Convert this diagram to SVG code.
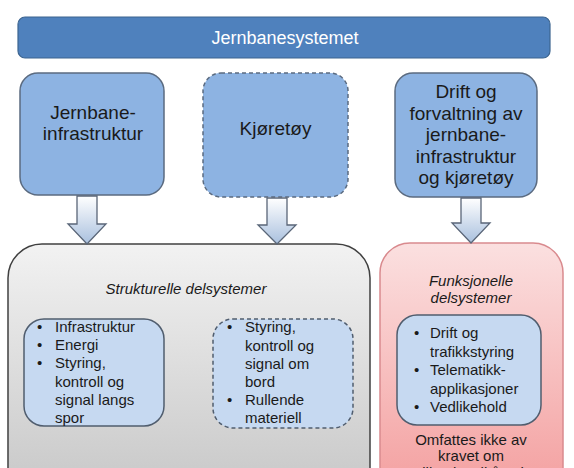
<svg xmlns="http://www.w3.org/2000/svg" width="574" height="468" viewBox="0 0 574 468">
<defs>
<linearGradient id="gGray" x1="0" y1="0" x2="0" y2="1">
<stop offset="0" stop-color="#f2f2f2"/><stop offset="1" stop-color="#c4c4c4"/>
</linearGradient>
<linearGradient id="gPink" x1="0" y1="0" x2="0" y2="1">
<stop offset="0" stop-color="#fbe0e0"/><stop offset="1" stop-color="#f39a9a"/>
</linearGradient>
<linearGradient id="gArrow" x1="0" y1="0" x2="0" y2="1">
<stop offset="0" stop-color="#ffffff"/><stop offset="1" stop-color="#a9c0de"/>
</linearGradient>
<style>
text{font-family:"Liberation Sans",Arial,sans-serif;fill:#1a1a1a}
.t18{font-size:18px;text-anchor:middle}
.t19{font-size:19px;text-anchor:middle}
.t15{font-size:15px}
.it{font-style:italic;text-anchor:middle}
.c{text-anchor:middle}
.blue{fill:#8db3e2;stroke:#5b6b80;stroke-width:1.5}
.inner{fill:#c6d9f1;stroke:#505d6e;stroke-width:1.5}
.dash{stroke-dasharray:4 3}
.arrow{fill:url(#gArrow);stroke:#5a6678;stroke-width:1.3}
</style>
</defs>
<rect width="574" height="468" fill="#ffffff"/>

<g id="jernbanesystemet">
<rect x="18" y="17" width="532" height="41" rx="7" fill="#4f81bd" stroke="#3d6590" stroke-width="1.2"/>
<text x="285" y="44" class="t18" style="fill:#ffffff">Jernbanesystemet</text>
</g>

<g id="infrastruktur">
<rect x="20" y="73" width="144" height="122" rx="18" class="blue"/>
<text x="93" y="119" class="t19">Jernbane-</text>
<text x="93" y="140" class="t19">infrastruktur</text>
</g>

<g id="kjoretoy">
<rect x="203" y="73" width="145" height="124" rx="18" class="blue dash"/>
<text x="275.5" y="135" class="t19">Kjøretøy</text>
</g>

<g id="drift">
<rect x="395" y="73" width="142" height="124" rx="18" class="blue"/>
<text x="466" y="98" class="t19">Drift og</text>
<text x="466" y="119.5" class="t19">forvaltning av</text>
<text x="466" y="141" class="t19">jernbane-</text>
<text x="466" y="162.5" class="t19">infrastruktur</text>
<text x="466" y="184" class="t19">og kjøretøy</text>
</g>

<g id="strukturelle">
<rect x="8" y="244" width="362" height="270" rx="34" fill="url(#gGray)" stroke="#404040" stroke-width="1.5"/>
<text x="186" y="294" class="t15 it">Strukturelle delsystemer</text>
</g>

<g id="strukturelle-infra">
<rect x="24" y="319" width="140" height="107" rx="20" class="inner"/>
<text class="t15">
<tspan x="37" y="332">•</tspan><tspan x="55" y="332">Infrastruktur</tspan>
<tspan x="37" y="350">•</tspan><tspan x="55" y="350">Energi</tspan>
<tspan x="37" y="368">•</tspan><tspan x="55" y="368">Styring,</tspan>
<tspan x="55" y="386.5">kontroll og</tspan>
<tspan x="55" y="405">signal langs</tspan>
<tspan x="55" y="423">spor</tspan>
</text>
</g>

<g id="strukturelle-kjoretoy">
<rect x="213" y="319" width="140" height="109" rx="20" class="inner dash"/>
<text class="t15">
<tspan x="227" y="332">•</tspan><tspan x="245" y="332">Styring,</tspan>
<tspan x="245" y="350.5">kontroll og</tspan>
<tspan x="245" y="369">signal om</tspan>
<tspan x="245" y="387">bord</tspan>
<tspan x="227" y="405">•</tspan><tspan x="245" y="405">Rullende</tspan>
<tspan x="245" y="423">materiell</tspan>
</text>
</g>

<g id="funksjonelle">
<rect x="380" y="243" width="183" height="270" rx="30" fill="url(#gPink)" stroke="#d98a8e" stroke-width="1.5"/>
<text x="471" y="286" class="t15 it">Funksjonelle</text>
<text x="471" y="303" class="t15 it">delsystemer</text>
<text x="471" y="445" class="t15 c">Omfattes ikke av</text>
<text x="471" y="461" class="t15 c">kravet om</text>
<text x="471" y="478" class="t15 c">tillatelse til å ta i</text>
</g>

<g id="funksjonelle-liste">
<rect x="397" y="315" width="144" height="110" rx="20" class="inner"/>
<text class="t15">
<tspan x="414" y="338">•</tspan><tspan x="430" y="338">Drift og</tspan>
<tspan x="430" y="356.5">trafikkstyring</tspan>
<tspan x="414" y="375">•</tspan><tspan x="430" y="375">Telematikk-</tspan>
<tspan x="430" y="393.5">applikasjoner</tspan>
<tspan x="414" y="412">•</tspan><tspan x="430" y="412">Vedlikehold</tspan>
</text>
</g>

<g id="connectors">
<path class="arrow" d="M77,196 H97 V224 H106 L87,244 L68,224 H77 Z"/>
<path class="arrow" d="M267,198 H287 V225 H296 L277,244 L258,225 H267 Z"/>
<path class="arrow" d="M461,198 H481 V223 H490 L471,243 L452,223 H461 Z"/>
</g>
</svg>
